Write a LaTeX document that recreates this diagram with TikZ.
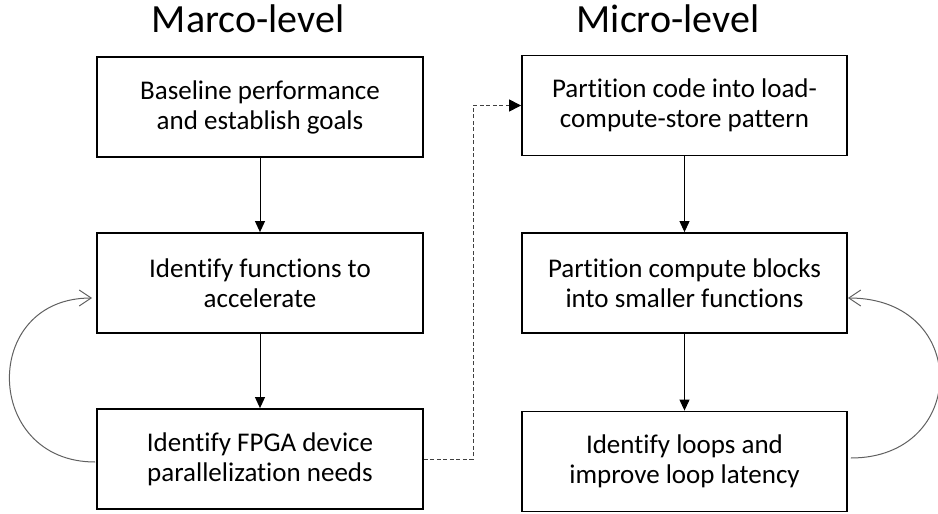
\documentclass[tikz,border=0pt]{standalone}
\usepackage{fontspec}
\setmainfont{Carlito}[Ligatures={NoCommon,NoRare,NoContextual}]
\usetikzlibrary{arrows.meta}

\definecolor{loopgray}{HTML}{606060}
\definecolor{dashgray}{HTML}{404040}

\begin{document}
\begin{tikzpicture}[x=1pt,y=-1pt,
  stepbox/.style={draw=black, line width=1.8pt, minimum width=326pt, minimum height=100pt,
    inner sep=0pt, align=center, font=\fontsize{27}{30}\selectfont},
  heading/.style={anchor=base, font=\fontsize{40}{48}\selectfont},
  flow/.style={line width=1pt, -{Triangle[length=11pt,width=10pt]}},
  jump/.style={line width=1pt, draw=dashgray, dash pattern=on 4pt off 2.5pt,
    -{Triangle[length=12pt,width=12pt,fill=black,color=black]}},
  loopback/.style={line width=1pt, draw=loopgray, -{Straight Barb[length=12pt,width=16pt]}}]

  % canvas
  \fill[white] (0,0) rectangle (938,514);
  \useasboundingbox (0,0) rectangle (938,514);

  % column headings
  \node[heading] (hmacro) at (248,32) {Marco-level};
  \node[heading] (hmicro) at (668,32) {Micro-level};

  % macro-level steps
  \node[stepbox] (L1) at (260,107) {Baseline performance\\and establish goals};
  \node[stepbox] (L2) at (260,283) {Identify functions to\\accelerate};
  \node[stepbox] (L3) at (260,459) {Identify FPGA device\\parallelization needs};

  % micro-level steps
  \node[stepbox, minimum width=325pt] (R1) at (684.5,105.5) {Partition code into load-\\compute-store pattern};
  \node[stepbox, minimum width=325pt] (R2) at (684.5,283) {Partition compute blocks\\into smaller functions};
  \node[stepbox, minimum width=325pt] (R3) at (684.5,461.5) {Identify loops and\\improve loop latency};

  % downward flow
  \draw[flow] (L1) -- (L2);
  \draw[flow] (L2) -- (L3);
  \draw[flow] (R1) -- (R2);
  \draw[flow] (R2) -- (R3);

  % hand-over from macro to micro level
  \coordinate (bend) at (473,459);
  \draw[jump] (L3.east) -- (bend) |- (R1.west);

  % iteration loops
  \draw[loopback] ([yshift=-3pt,xshift=-1pt]L3.west)
    .. controls +(-112,0) and +(-112,0) .. ([yshift=-15pt,xshift=-4pt]L2.west);
  \draw[loopback] ([yshift=3.5pt,xshift=3pt]R3.east)
    .. controls +(118,0) and +(123,0) .. ([yshift=-15pt,xshift=0pt]R2.east);
\end{tikzpicture}
\end{document}
